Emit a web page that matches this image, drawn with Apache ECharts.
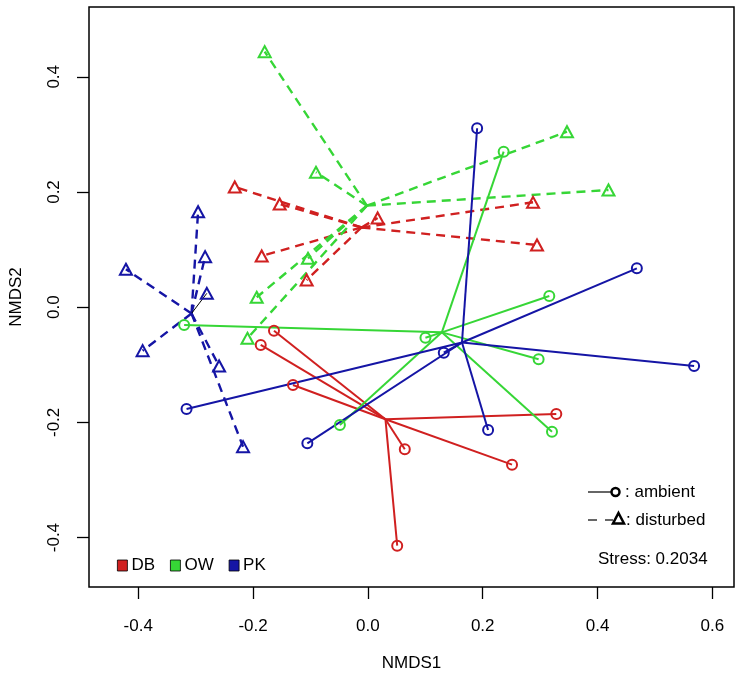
<!DOCTYPE html>
<html><head><meta charset="utf-8">
<script src="https://cdn.jsdelivr.net/npm/echarts@6/dist/echarts.min.js"></script>
<style>html,body{margin:0;padding:0;background:#fff}#c{width:746px;height:681px}</style>
</head><body><div id="c"></div>
<script>
// ---- data (NMDS site scores) ----
const groups = ['DB', 'OW', 'PK'];
const groupColors = ['#d02020', '#36d636', '#1515a5'];
const xTicks = [-0.4, -0.2, 0.0, 0.2, 0.4, 0.6];
const yTicks = [-0.4, -0.2, 0.0, 0.2, 0.4];
const stressText = 'Stress: 0.2034';

const DB_ambient = [[-0.1635,-0.0408],[-0.1866,-0.0656],[-0.1304,-0.1351],[0.0643,-0.2467],[0.0511,-0.4141],[0.3282,-0.1854],[0.2511,-0.2734]];
const DB_disturbed = [[-0.2318,0.2087],[-0.1536,0.1792],[-0.1849,0.0889],[-0.1066,0.0472],[0.0170,0.1549],[0.2877,0.1821],[0.2946,0.1080]];
const OW_ambient = [[-0.3200,-0.0309],[0.1003,-0.0530],[-0.0487,-0.2045],[0.2365,0.2700],[0.3160,0.0194],[0.2974,-0.0905],[0.3207,-0.2161]];
const OW_disturbed = [[-0.1797,0.4436],[-0.0904,0.2342],[0.3468,0.3047],[0.4191,0.2035],[-0.1043,0.0849],[-0.1936,0.0172],[-0.2097,-0.0540]];
const PK_ambient = [[0.1903,0.3106],[0.4685,0.0675],[0.5682,-0.1021],[0.2094,-0.2132],[0.1322,-0.0790],[-0.3158,-0.1767],[-0.1054,-0.2363]];
const PK_disturbed = [[-0.4214,0.0658],[-0.2957,0.1658],[-0.2835,0.0877],[-0.2805,0.0241],[-0.3923,-0.0755],[-0.2591,-0.1021],[-0.2174,-0.2422]];

const sets = [
  {g:0, treat:'ambient', pts: DB_ambient},
  {g:0, treat:'disturbed', pts: DB_disturbed},
  {g:1, treat:'ambient', pts: OW_ambient},
  {g:1, treat:'disturbed', pts: OW_disturbed},
  {g:2, treat:'ambient', pts: PK_ambient},
  {g:2, treat:'disturbed', pts: PK_disturbed}
];

function centroid(p){
  let sx=0, sy=0; p.forEach(q=>{sx+=q[0]; sy+=q[1];});
  return [sx/p.length, sy/p.length];
}

const series = [];
sets.forEach(s=>{
  const c = centroid(s.pts);
  const col = groupColors[s.g];
  const dashed = s.treat === 'disturbed';
  const segs = s.pts.map((p,i)=>{
    const d = {coords:[c,p]};
    if (s.g===2 && dashed && i===3) d.lineStyle = {color:'#000', width:1, type:'solid'};
    return d;
  });
  series.push({
    type:'lines', coordinateSystem:'cartesian2d', polyline:false, silent:true,
    lineStyle:{color:col, width: dashed?2.4:2, type: dashed?[9,6]:'solid', opacity:1},
    data: segs, z:2, animation:false
  });
  series.push({
    name: groups[s.g], type:'scatter', silent:true,
    symbol: dashed ? 'triangle' : 'circle',
    symbolSize: dashed ? [12,11] : 10,
    itemStyle:{color:'rgba(0,0,0,0)', borderColor:col, borderWidth:2, opacity:1},
    data: s.pts, z:3, animation:false
  });
});

const chart = echarts.init(document.getElementById('c'), null, {renderer:'canvas'});
const font = 'Liberation Sans, Arial, sans-serif';
chart.setOption({
  animation:false,
  backgroundColor:'#fff',
  textStyle:{fontFamily:font},
  grid:{left:88, right:12, top:7, bottom:94, show:true, borderColor:'#000', borderWidth:1.5, backgroundColor:'transparent'},
  legend:{
    left:112, top:552, itemWidth:10, itemHeight:11, itemGap:15, selectedMode:false,
    textStyle:{fontSize:17, color:'#000', fontFamily:font, padding:[0,0,0,-1]},
    data: groups.map((g,i)=>({name:g, icon:'rect', itemStyle:{color:groupColors[i], borderColor:'#000', borderWidth:0.8}}))
  },
  xAxis:{
    type:'value', min:-0.4857, max:0.6377,
    splitLine:{show:false}, axisLine:{show:false, onZero:false},
    axisTick:{show:true, inside:false, length:12, customValues:xTicks, lineStyle:{color:'#000', width:1.3}},
    axisLabel:{customValues:xTicks, formatter:v=>v.toFixed(1), fontSize:17, color:'#000', margin:31, fontFamily:font},
    name:'NMDS1', nameLocation:'middle', nameGap:68,
    nameTextStyle:{fontSize:17, color:'#000', fontFamily:font}
  },
  yAxis:{
    type:'value', min:-0.4858, max:0.5212,
    splitLine:{show:false}, axisLine:{show:false, onZero:false},
    axisTick:{show:true, inside:false, length:12, customValues:yTicks, lineStyle:{color:'#000', width:1.3}},
    axisLabel:{customValues:yTicks, formatter:v=>v.toFixed(1), fontSize:17, color:'#000', margin:26, rotate:90, fontFamily:font},
    name:'NMDS2', nameLocation:'middle', nameGap:64,
    nameTextStyle:{fontSize:17, color:'#000', fontFamily:font}
  },
  series: series,
  graphic:[
    {type:'line', shape:{x1:588,y1:492,x2:611,y2:492}, style:{stroke:'#000', lineWidth:1.2}, silent:true},
    {type:'circle', shape:{cx:615.5,cy:492,r:4}, style:{stroke:'#000', fill:'#fff', lineWidth:2.5}, silent:true},
    {type:'text', x:625, y:492, style:{text:': ambient', fontSize:17, fill:'#000', font:'17px '+font, verticalAlign:'middle'}, silent:true},
    {type:'line', shape:{x1:588,y1:520,x2:597,y2:520}, style:{stroke:'#000', lineWidth:1.2}, silent:true},
    {type:'line', shape:{x1:605,y1:520,x2:613,y2:520}, style:{stroke:'#000', lineWidth:1.2}, silent:true},
    {type:'polygon', shape:{points:[[618.5,513],[624,523.5],[613,523.5]]}, style:{stroke:'#000', fill:'#fff', lineWidth:2.5}, silent:true},
    {type:'text', x:626, y:520, style:{text:': disturbed', fontSize:17, fill:'#000', font:'17px '+font, verticalAlign:'middle'}, silent:true},
    {type:'text', x:598, y:559, style:{text:stressText, fontSize:17, fill:'#000', font:'17px '+font, verticalAlign:'middle'}, silent:true}
  ]
});
</script></body></html>
